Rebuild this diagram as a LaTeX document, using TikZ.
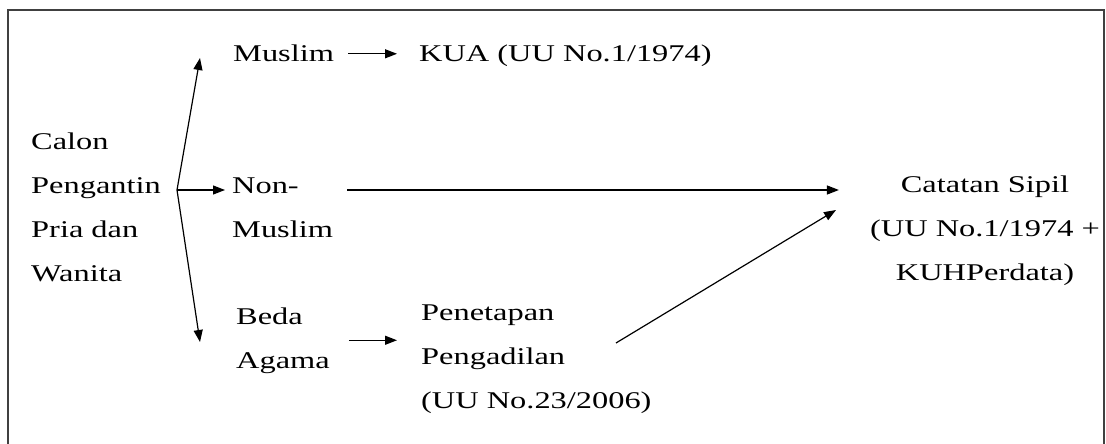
\documentclass[tikz,border=0pt]{standalone}
\usepackage{fontspec}
\setmainfont{Liberation Serif}[FakeStretch=1.35]
\usetikzlibrary{arrows.meta}

\begin{document}
\begin{tikzpicture}[x=1pt, y=-1pt,
    lbl/.style={anchor=base west, inner sep=0pt, align=left, font=\fontsize{24}{44}\selectfont},
    arr/.style={-{Triangle[length=12pt,width=9pt]}, line width=1.2pt}]
    \clip (0,0) rectangle (1106,444);
    \draw[line width=1.5pt, black!75] (8,10) rectangle (1104,480);
    % labels (placed at the baseline of their last line)
    \node[lbl] (calon) at (31,281) {Calon\\Pengantin\\Pria dan\\Wanita};
    \node[lbl] (muslim) at (233,62) {Muslim};
    \node[lbl] (kua) at (419,62) {KUA (UU No.1/1974)};
    \node[lbl] (nonmuslim) at (232,237) {Non-\\Muslim};
    \node[lbl] (beda) at (236,368) {Beda\\Agama};
    \node[lbl] (penetapan) at (421,408) {Penetapan\\Pengadilan\\(UU No.23/2006)};
    \node[lbl, anchor=base, align=center] (catatan) at (985,280) {Catatan Sipil\\(UU No.1/1974 +\\KUHPerdata)};
    % fork
    \coordinate (fork) at (177,190);
    \coordinate (up) at (200,58);
    \coordinate (down) at (200,342);
    \draw[arr] (fork) -- (up);
    \draw[arr] (fork) -- (down);
    \draw[arr, shorten >=7pt] (fork) -- (fork -| nonmuslim.west);
    % arrows to the right
    \draw[arr, shorten <=14pt, shorten >=22pt] (muslim.east) -- (muslim.east -| kua.west);
    \draw[arr, shorten <=14pt, shorten >=31pt] (fork -| nonmuslim.east) -- (fork -| catatan.west);
    \draw[arr, shorten <=19pt, shorten >=24pt] (beda.east) -- (beda.east -| penetapan.west);
    \coordinate (diag) at (616,343);
    \coordinate (sipil) at (836,210);
    \draw[arr] (diag) -- (sipil);
\end{tikzpicture}
\end{document}
